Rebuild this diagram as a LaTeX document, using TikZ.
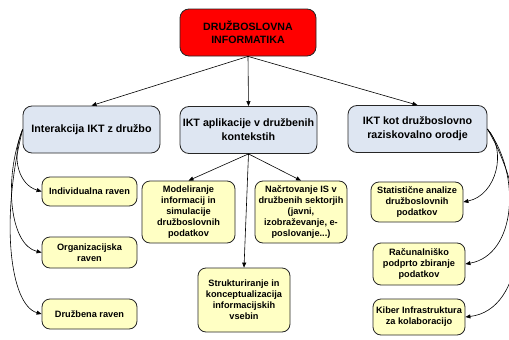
\documentclass[tikz,border=0pt]{standalone}
\usepackage{fontspec}
\setmainfont{Liberation Sans}
\usetikzlibrary{arrows.meta}
\definecolor{boxblue}{HTML}{DEE6F2}
\definecolor{boxyellow}{HTML}{FFFFC4}
\begin{document}
\begin{tikzpicture}[x=1pt,y=-1pt,
  base/.style={draw=black!85, line width=0.8pt, align=center, inner sep=0pt},
  topbox/.style={base, fill=red, rounded corners=9pt, minimum width=136pt, minimum height=47pt,
    font=\fontsize{10.6}{12.5}\selectfont\bfseries},
  lvlbox/.style={base, fill=boxblue, rounded corners=9pt, minimum width=137pt, minimum height=47pt,
    font=\fontsize{10.7}{14}\selectfont\bfseries},
  leafbox/.style={base, fill=boxyellow, rounded corners=8pt, minimum width=93pt,
    font=\fontsize{9.2}{10.9}\selectfont\bfseries},
  conn/.style={-{Triangle[length=5pt,width=4pt]}, line width=0.6pt, black}]
\useasboundingbox (0,0) rectangle (509,340);

\node[topbox] (top) at (248,32.5) {DRUŽBOSLOVNA\\INFORMATIKA};

\node[lvlbox] (L) at (91.5,129.5) {Interakcija IKT z družbo};
\node[lvlbox] (C) at (248.5,130) {IKT aplikacije v družbenih\\kontekstih};
\node[lvlbox, minimum width=139pt] (R) at (417.5,129) {IKT kot družboslovno\\raziskovalno orodje};

\node[leafbox, minimum width=95pt, minimum height=29pt] (Ind) at (89.5,191.5) {Individualna raven};
\node[leafbox, minimum width=95pt, minimum height=31pt] (Org) at (89.5,252.5) {Organizacijska\\raven};
\node[leafbox, minimum width=95pt, minimum height=30pt] (Druz) at (89.5,314) {Družbena raven};

\node[leafbox, minimum height=62pt] (Mod) at (188.5,212) {Modeliranje\\informacij in\\simulacije\\družboslovnih\\podatkov};
\node[leafbox, minimum width=92pt, minimum height=62pt] (Nac) at (301,212) {Načrtovanje IS v\\družbenih sektorjih\\(javni,\\izobraževanje, e-\\poslovanje...)};
\node[leafbox, minimum width=92pt, minimum height=64pt] (Str) at (244,300) {Strukturiranje in\\konceptualizacija\\informacijskih\\vsebin};

\node[leafbox, minimum width=92pt, minimum height=40pt] (Sta) at (417,202) {Statistične analize\\družboslovnih\\podatkov};
\node[leafbox, minimum width=92pt, minimum height=42pt] (Rac) at (419,264) {Računalniško\\podprto zbiranje\\podatkov};
\node[leafbox, minimum width=92pt, minimum height=36pt] (Kib) at (419,317) {Kiber Infrastruktura\\za kolaboracijo};

\draw[conn] (top.south) -- (L.north);
\draw[conn] (top.south) -- (C.north);
\draw[conn] (top.south) -- (R.north);

\draw[conn] (C.south) -- (Mod.north);
\draw[conn] (C.south) -- (Nac.north);
\draw[conn] (C.south) -- (Str.north);

\draw[conn] (L.west) .. controls (10,160) and (20,185) .. (Ind.west);
\draw[conn] (L.west) .. controls (3,180) and (10,245) .. (Org.west);
\draw[conn] (L.west) .. controls (0,220) and (10,305) .. (Druz.west);

\draw[conn] (R.east) .. controls (507,150) and (497,195) .. (Sta.east);
\draw[conn] (R.east) .. controls (522,175) and (516,255) .. (Rac.east);
\draw[conn] (R.east) .. controls (535,210) and (525,310) .. (Kib.east);
\end{tikzpicture}
\end{document}
